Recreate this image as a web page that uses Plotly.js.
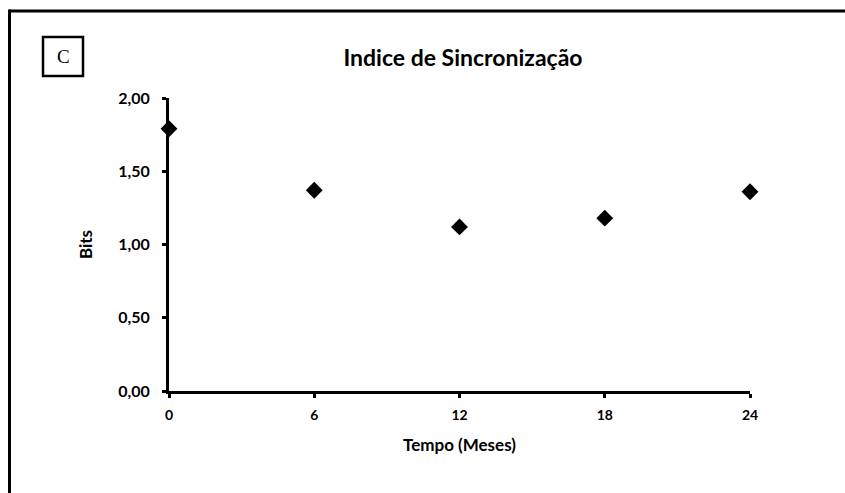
<!DOCTYPE html>
<html>
<head>
<meta charset="utf-8">
<script src="https://cdn.plot.ly/plotly-3.0.1.min.js"></script>
<style>
html,body{margin:0;padding:0;background:#fff;overflow:hidden;}
#chart{width:845px;height:493px;}
</style>
</head>
<body>
<div id="chart"></div>
<script>
const months = [0, 6, 12, 18, 24];
const bits = [1.79, 1.37, 1.12, 1.18, 1.36];
const xTicks = [0, 6, 12, 18, 24];
const yTicks = [0, 0.5, 1, 1.5, 2];
const chartTitle = "Indice de Sincronização";
const xTitle = "Tempo (Meses)";
const yTitle = "Bits";
const panelLabel = "C";

const F = "Lato, 'Open Sans', sans-serif";
const PX = (X) => (X - 169) / 581;   // pixel -> paper x
const PY = (Y) => (391 - Y) / 293;   // pixel -> paper y

const trace = {
  x: months, y: bits, type: "scatter", mode: "markers",
  marker: {symbol: "diamond", size: 13, color: "#000"},
  cliponaxis: false, hoverinfo: "skip"
};

const layout = {
  width: 845, height: 493,
  margin: {l: 169, r: 95, t: 98, b: 102},
  paper_bgcolor: "#fff", plot_bgcolor: "#fff",
  separators: ", ",
  showlegend: false,
  font: {family: F, color: "#000"},
  title: {text: "<b>" + chartTitle + "</b>", font: {family: F, size: 23, color: "#000"},
          x: PX(463), xref: "paper", xanchor: "center", y: 1 - 58 / 493, yref: "container", yanchor: "middle"},
  xaxis: {
    range: [0, 24], tickvals: xTicks, ticktext: xTicks.map(v => "<b>" + v + "</b>"),
    showgrid: false, zeroline: false, showline: true, linecolor: "#000", linewidth: 3,
    ticks: "outside", ticklen: 4, tickwidth: 3, tickcolor: "#000", ticklabelstandoff: 5,
    tickfont: {family: F, size: 14, color: "#000"},
    title: {text: "<b>" + xTitle + "</b>", font: {family: F, size: 17, color: "#000"}, standoff: 18}
  },
  yaxis: {
    range: [0, 2], tickvals: yTicks, tickformat: ".2f",
    showgrid: false, zeroline: false, showline: true, linecolor: "#000", linewidth: 3,
    ticks: "outside", ticklen: 4, tickwidth: 3, tickcolor: "#000", ticklabelstandoff: 9,
    tickfont: {family: F, size: 16, color: "#000", weight: "bold"},
    title: {text: "<b>" + yTitle + "</b>", font: {family: F, size: 17, color: "#000"}, standoff: 22}
  },
  shapes: [
    {type: "rect", layer: "above", xref: "paper", yref: "paper",
     x0: PX(836), x1: PX(846), y0: PY(494), y1: PY(13),
     line: {width: 0}, fillcolor: "#fff"},
    {type: "line", layer: "above", xref: "paper", yref: "paper",
     x0: PX(9.5), x1: PX(845), y0: PY(11), y1: PY(11),
     line: {color: "#000", width: 3}},
    {type: "line", layer: "above", xref: "paper", yref: "paper",
     x0: PX(9.5), x1: PX(9.5), y0: PY(9.5), y1: PY(493),
     line: {color: "#000", width: 3}},
    {type: "rect", xref: "paper", yref: "paper",
     x0: PX(43), x1: PX(83), y0: PY(76), y1: PY(37),
     line: {color: "#000", width: 2.5}, fillcolor: "#fff"}
  ],
  annotations: [
    {text: panelLabel, xref: "paper", yref: "paper", x: PX(63), y: PY(57),
     showarrow: false, xanchor: "center", yanchor: "middle",
     font: {family: "'Liberation Serif', 'DejaVu Serif', serif", size: 19, color: "#000"}}
  ]
};

Plotly.newPlot("chart", [trace], layout, {staticPlot: true, displayModeBar: false});
</script>
</body>
</html>
